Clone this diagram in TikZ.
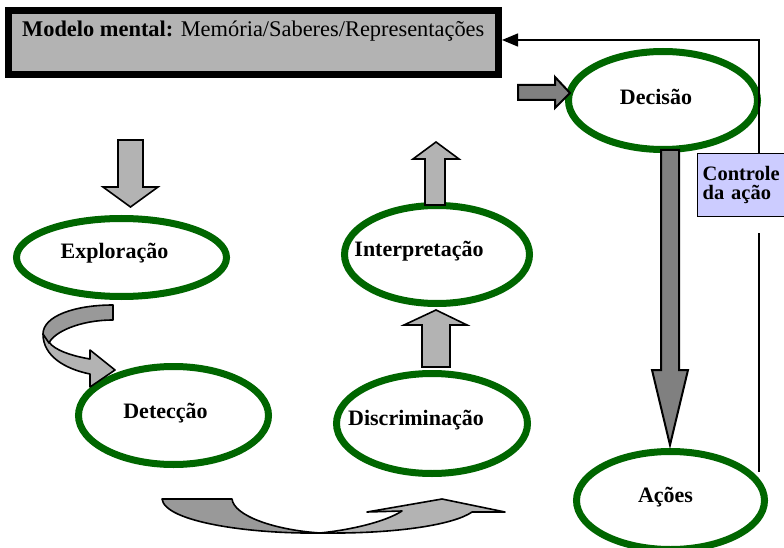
\documentclass[tikz,border=0pt]{standalone}
\usepackage{fontspec}
\setmainfont{Liberation Serif}
\usetikzlibrary{shapes.geometric,arrows.meta}
\definecolor{eg}{HTML}{006600}
\definecolor{lgray}{HTML}{B3B3B3}
\definecolor{mgray}{HTML}{999999}
\definecolor{dgray}{HTML}{808080}
\definecolor{lav}{HTML}{CCCCFF}
\begin{document}
\begin{tikzpicture}[x=1pt,y=-1pt,
  oval/.style={ellipse, draw=eg, line width=7pt, fill=white, inner sep=0pt},
  lbl/.style={font=\fontsize{22}{24}\selectfont\bfseries, inner sep=0pt},
  fatlight/.style={fill=lgray, draw=black, line width=1.6pt, line join=miter},
  fatdark/.style={fill=dgray, draw=black, line width=2pt, line join=miter},
  curvedark/.style={fill=mgray, draw=black, line width=1.6pt, line join=round},
  curvelight/.style={fill=lgray, draw=black, line width=1.6pt, line join=round},
  fbline/.style={draw=black, line width=1.3pt}]
\clip (0,0) rectangle (784,548);
\fill[white] (0,0) rectangle (784,548);

% top box
\node[draw=black, line width=7pt, fill=lgray, minimum width=490, minimum height=64, inner sep=0pt]
  (mm) at (253.5,42.5) {};
\node[anchor=base west, inner sep=0pt, font=\fontsize{22.4}{24}\selectfont] (mmtext) at (22,37)
  {\textbf{Modelo mental:} Memória/Saberes/Representações};

% ellipses
\node[oval, minimum width=210, minimum height=78, label={[lbl, shift={(-7,-4.5)}]center:Exploração}] (exp) at (121.5,257.5) {};
\node[oval, minimum width=190, minimum height=98, label={[lbl, shift={(-8,-2.5)}]center:Detecção}] (det) at (173.5,415.5) {};
\node[oval, minimum width=185, minimum height=98, label={[lbl, shift={(-18,-3.5)}]center:Interpretação}] (int) at (437,254.5) {};
\node[oval, minimum width=191, minimum height=100, label={[lbl, shift={(-16,-3.5)}]center:Discriminação}] (dis) at (432,423.5) {};
\node[oval, minimum width=189, minimum height=98, label={[lbl, shift={(-7,-3.5)}]center:Decisão}] (dec) at (663,100.5) {};
\node[oval, minimum width=188, minimum height=98, label={[lbl, shift={(-5,-3.5)}]center:Ações}] (aco) at (670.5,500.5) {};

% control box
\node[draw=black, line width=1.4pt, fill=lav, anchor=north west, minimum width=93, minimum height=63,
  inner xsep=5pt, inner ysep=0pt, text width=83, align=left,
  font=\fontsize{20.5}{22}\selectfont\bfseries] (ctrl) at (697,153) {\raisebox{-3pt}{Controle}\\da ação};

% feedback line
\coordinate (fb) at (759,40);
\coordinate (fblow) at (759,233);
\draw[fbline, -{Triangle[length=16pt, width=13pt]}] (ctrl.north -| fb) -- (fb) -- (mm.east |- fb);
\draw[fbline] (fblow) -- (759,472);

% straight fat arrows
\draw[fatlight] (118,140) -- (143,140) -- (143,187) -- (158,187) -- (130.5,207) -- (103,187) -- (118,187) -- cycle;
\draw[fatlight] (425,205) -- (445,205) -- (445,159) -- (459,159) -- (436,142) -- (413,159) -- (425,159) -- cycle;
\draw[fatlight] (422,367) -- (450,367) -- (450,325) -- (467,325) -- (436,310) -- (404,325) -- (422,325) -- cycle;
\draw[fatdark] (518,85) -- (555,85) -- (555,77) -- (570,93) -- (555,108) -- (555,100) -- (518,100) -- cycle;
\draw[fatdark] (661,150) -- (679,150) -- (679,370) -- (688,370) -- (670,445) -- (652,370) -- (661,370) -- cycle;

% curved arrow Exploracao -> Deteccao
\draw[curvelight] (43,334) .. controls (43,356) and (65,369) .. (90,374) -- (90,387) -- (115,370) -- (90,350)
  -- (90,359) .. controls (72,356) and (54,350) .. (49,342) -- cycle;
\draw[curvedark] (113,305) .. controls (75,305) and (43,316) .. (43,334) -- (49,343)
  .. controls (54,332) and (80,320) .. (113,320) -- cycle;

% curved arrow Deteccao -> Discriminacao
\draw[curvedark] (162,499) -- (232,499) .. controls (234,516) and (275,530) .. (320,533)
  .. controls (250,534) and (165,522) .. (162,499) -- cycle;
\draw[curvelight] (320,533) .. controls (400,534) and (455,524) .. (472,512) -- (505,512) -- (442,499)
  -- (367,512) -- (402,511) .. controls (385,522) and (350,530) .. (320,533) -- cycle;
\end{tikzpicture}
\end{document}
